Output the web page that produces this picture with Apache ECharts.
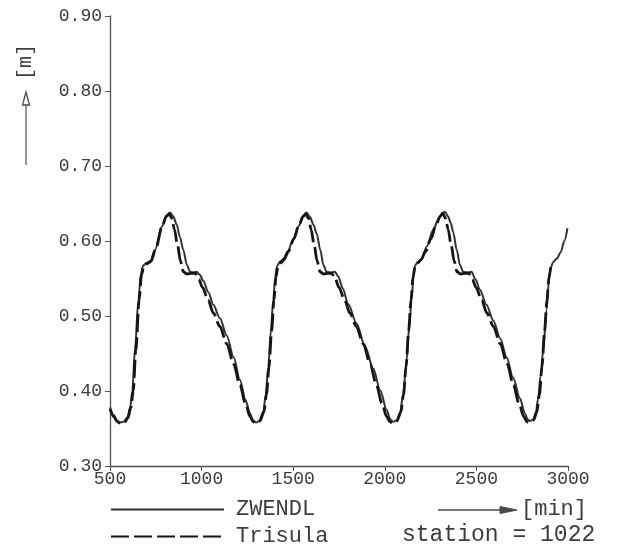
<!DOCTYPE html>
<html>
<head>
<meta charset="utf-8">
<script src="https://cdn.jsdelivr.net/npm/echarts@6/dist/echarts.min.js"></script>
<style>
html,body{margin:0;padding:0;background:#fdfdfd;}
#chart{width:625px;height:555px;}
</style>
</head>
<body>
<div id="chart"></div>
<script>
// time [min], water level [m]
const zwendl = [
[500,0.378],[520,0.368],[540,0.360],[555,0.358],[575,0.359],[595,0.365],[610,0.378],[622,0.400],[636,0.455],[655,0.521],[668,0.555],[680,0.567],[700,0.571],[720,0.573],[746,0.588],[782,0.619],[810,0.634],[827,0.638],[845,0.633],[864,0.622],[882,0.605],[900,0.588],[920,0.568],[937,0.559],[955,0.558],[973,0.559],[990,0.555],[1009,0.547],[1036,0.532],[1064,0.515],[1100,0.497],[1137,0.474],[1175,0.445],[1209,0.415],[1240,0.388],[1264,0.370],[1280,0.361],[1297,0.358],[1315,0.360],[1337,0.372],[1350,0.395],[1364,0.432],[1378,0.480],[1391,0.521],[1402,0.552],[1412,0.567],[1430,0.573],[1446,0.576],[1470,0.586],[1500,0.602],[1530,0.620],[1555,0.633],[1573,0.638],[1592,0.632],[1610,0.622],[1628,0.610],[1648,0.588],[1665,0.568],[1682,0.559],[1705,0.558],[1728,0.559],[1745,0.553],[1770,0.537],[1800,0.516],[1846,0.490],[1890,0.461],[1937,0.430],[1975,0.401],[2010,0.375],[2030,0.362],[2046,0.359],[2065,0.361],[2083,0.370],[2100,0.395],[2119,0.441],[2133,0.485],[2146,0.521],[2156,0.550],[2166,0.568],[2185,0.573],[2201,0.576],[2230,0.593],[2264,0.615],[2295,0.630],[2315,0.637],[2328,0.639],[2345,0.633],[2360,0.624],[2373,0.612],[2393,0.588],[2410,0.568],[2428,0.559],[2450,0.558],[2473,0.559],[2495,0.549],[2519,0.535],[2555,0.515],[2592,0.494],[2630,0.470],[2665,0.445],[2700,0.418],[2738,0.390],[2765,0.370],[2780,0.362],[2792,0.360],[2810,0.362],[2825,0.372],[2837,0.390],[2850,0.420],[2865,0.455],[2883,0.508],[2895,0.545],[2905,0.564],[2919,0.572],[2940,0.577],[2960,0.585],[2980,0.600],[2997,0.617]
];
const trisula = [
[500,0.376],[520,0.366],[540,0.359],[558,0.357],[578,0.358],[598,0.364],[614,0.378],[627,0.400],[641,0.455],[659,0.521],[672,0.555],[684,0.566],[704,0.570],[724,0.573],[750,0.590],[785,0.620],[808,0.633],[822,0.636],[838,0.630],[852,0.615],[868,0.595],[885,0.573],[900,0.559],[920,0.556],[945,0.557],[965,0.557],[985,0.549],[1005,0.538],[1036,0.521],[1064,0.504],[1100,0.486],[1137,0.463],[1175,0.436],[1209,0.408],[1240,0.383],[1264,0.366],[1282,0.359],[1299,0.357],[1318,0.360],[1340,0.372],[1354,0.395],[1368,0.432],[1382,0.480],[1395,0.521],[1406,0.552],[1416,0.565],[1434,0.571],[1450,0.575],[1474,0.586],[1504,0.603],[1532,0.622],[1555,0.633],[1568,0.636],[1584,0.630],[1598,0.615],[1614,0.595],[1631,0.573],[1646,0.559],[1666,0.556],[1690,0.557],[1710,0.557],[1730,0.549],[1750,0.538],[1781,0.521],[1809,0.504],[1845,0.486],[1882,0.463],[1920,0.436],[1954,0.408],[1985,0.383],[2010,0.366],[2028,0.359],[2046,0.357],[2066,0.360],[2088,0.372],[2102,0.395],[2116,0.432],[2130,0.480],[2143,0.521],[2154,0.552],[2164,0.565],[2182,0.571],[2198,0.575],[2222,0.586],[2252,0.603],[2280,0.622],[2303,0.633],[2316,0.637],[2332,0.630],[2346,0.615],[2362,0.595],[2379,0.573],[2394,0.559],[2414,0.556],[2438,0.557],[2458,0.557],[2478,0.549],[2498,0.538],[2529,0.521],[2557,0.504],[2593,0.486],[2630,0.463],[2668,0.436],[2702,0.408],[2733,0.383],[2758,0.366],[2776,0.359],[2794,0.358],[2812,0.361],[2830,0.372],[2844,0.395],[2858,0.432],[2872,0.480],[2885,0.521],[2896,0.552],[2906,0.565]
];
const seriesNames = ['ZWENDL', 'Trisula'];
const xTicks = [500, 1000, 1500, 2000, 2500, 3000];
const yTicks = [0.30, 0.40, 0.50, 0.60, 0.70, 0.80, 0.90];
const stationLabel = 'station = 1022';
const xUnit = '[min]';
const yUnit = '[m]';

const FONT = '"Liberation Mono","DejaVu Sans Mono",monospace';
const AX = '#5a4e52';
const TXT = '#3c3c3c';

const chart = echarts.init(document.getElementById('chart'), null, {renderer: 'canvas'});
chart.setOption({
  backgroundColor: '#fdfdfd',
  animation: false,
  grid: {left: 110, right: 57, top: 16, bottom: 89},
  xAxis: {
    type: 'value', min: xTicks[0], max: xTicks[xTicks.length - 1], interval: 500,
    axisLine: {lineStyle: {color: AX, width: 1.3}},
    axisTick: {length: 5, lineStyle: {color: AX}},
    splitLine: {show: false},
    axisLabel: {fontFamily: FONT, fontSize: 18, color: TXT, margin: 4,
      formatter: v => String(v)}
  },
  yAxis: {
    type: 'value', min: yTicks[0], max: yTicks[yTicks.length - 1], interval: 0.1,
    axisLine: {show: true, lineStyle: {color: AX, width: 1.3}},
    axisTick: {show: true, length: 5, lineStyle: {color: AX}},
    splitLine: {show: false},
    axisLabel: {fontFamily: FONT, fontSize: 18, color: TXT, margin: 8,
      formatter: v => v.toFixed(2)}
  },
  legend: {
    orient: 'vertical', left: 110, top: 498.5,
    itemWidth: 113, itemHeight: 26, itemGap: 5, padding: 0,
    itemStyle: {opacity: 0},
    textStyle: {fontFamily: FONT, fontSize: 22, color: TXT, padding: [0, 0, 0, 7]},
    data: seriesNames
  },
  series: [
    {
      name: seriesNames[0], type: 'line', data: zwendl,
      symbol: 'none', smooth: 0.3, smoothMonotone: 'x',
      lineStyle: {color: '#333333', width: 2},
      itemStyle: {color: '#333333'}
    },
    {
      name: seriesNames[1], type: 'line', data: trisula,
      symbol: 'none', smooth: 0.3, smoothMonotone: 'x',
      lineStyle: {color: '#151515', width: 2.8, type: [18, 5]},
      itemStyle: {color: '#151515'}
    }
  ],
  graphic: [
    {type: 'text', x: 26, y: 62, rotation: Math.PI / 2,
      style: {text: yUnit, font: '20px ' + FONT, fill: TXT, align: 'center', verticalAlign: 'middle'}},
    {type: 'line', shape: {x1: 26, y1: 165, x2: 26, y2: 104},
      style: {stroke: '#6a5a5e', lineWidth: 1.3}},
    {type: 'polygon', shape: {points: [[26, 92], [22.5, 105], [29.5, 105]]},
      style: {stroke: '#4a4a4a', fill: '#fdfdfd', lineWidth: 1.3}},
    {type: 'line', shape: {x1: 438, y1: 510, x2: 502, y2: 510},
      style: {stroke: '#4a4a4a', lineWidth: 1.3}},
    {type: 'polygon', shape: {points: [[517, 510], [500, 506.5], [500, 513.5]]},
      style: {stroke: '#4a4a4a', fill: '#4a4a4a', lineWidth: 1}},
    {type: 'text', x: 521, y: 509,
      style: {text: xUnit, font: '22px ' + FONT, fill: TXT, verticalAlign: 'middle'}},
    {type: 'text', x: 402, y: 535,
      style: {text: stationLabel, font: '23px ' + FONT, fill: TXT, verticalAlign: 'middle'}}
  ]
});
</script>
</body>
</html>
